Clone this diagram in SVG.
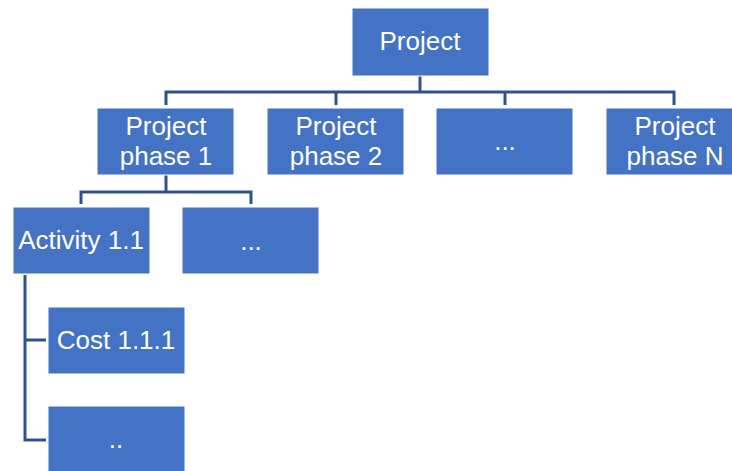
<svg xmlns="http://www.w3.org/2000/svg" width="732" height="471" viewBox="0 0 732 471">
<style>
.box{fill:#4472C4;stroke:#ffffff;stroke-width:1}
.lbl{font-family:"Liberation Sans",Arial,sans-serif;font-size:26px;fill:#ffffff;text-anchor:middle}
.conn{fill:none;stroke:#2F528F;stroke-width:3}
</style>
<rect width="732" height="471" fill="#ffffff"/>
<g id="connectors">
<path class="conn" d="M420,76 V92 M166,105 V92 H674 V105 M336,92 V105 M505,92 V105"/>
<path class="conn" d="M166,175 V192 M81,204 V192 H251 V204"/>
<path class="conn" d="M25,275 V440 H46 M25,340 H46"/>
</g>
<g id="project"><rect class="box" x="352" y="8" width="137" height="68"/><text class="lbl" x="420" y="50">Project</text></g>
<g id="phase1"><rect class="box" x="97" y="108" width="137" height="67"/><text class="lbl" x="166" y="135">Project</text><text class="lbl" x="166" y="165">phase 1</text></g>
<g id="phase2"><rect class="box" x="267" y="108" width="137" height="67"/><text class="lbl" x="336" y="135">Project</text><text class="lbl" x="336" y="165">phase 2</text></g>
<g id="phase-more"><rect class="box" x="436" y="108" width="137" height="67"/><text class="lbl" x="505" y="150">...</text></g>
<g id="phaseN"><rect class="box" x="606" y="108" width="137" height="67"/><text class="lbl" x="675" y="135">Project</text><text class="lbl" x="675" y="165">phase N</text></g>
<g id="activity11"><rect class="box" x="13" y="207" width="137" height="67"/><text class="lbl" x="81" y="249">Activity 1.1</text></g>
<g id="activity-more"><rect class="box" x="182" y="207" width="137" height="67"/><text class="lbl" x="251" y="250">...</text></g>
<g id="cost111"><rect class="box" x="48" y="307" width="137" height="67"/><text class="lbl" x="116" y="349">Cost 1.1.1</text></g>
<g id="cost-more"><rect class="box" x="48" y="406" width="137" height="67"/><text class="lbl" x="116" y="448">..</text></g>
</svg>
